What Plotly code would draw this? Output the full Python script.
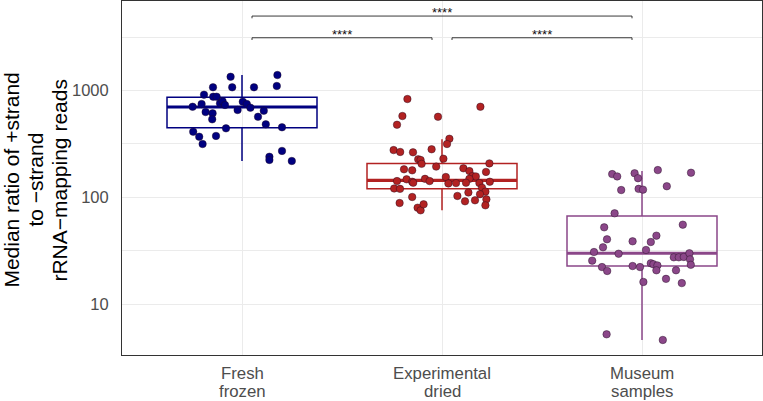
import math
import plotly.graph_objects as go

# ---------------- data ----------------
categories = ["Fresh frozen", "Experimental dried", "Museum samples"]
category_labels = [["Fresh", "frozen"], ["Experimental", "dried"], ["Museum", "samples"]]

fresh_values = [1349, 1400, 1105, 1074, 1074, 1074, 916, 877, 877, 706, 749, 630, 613, 538,
                760, 794, 733, 658, 787, 749, 692, 648, 569, 483, 453, 443, 376, 412, 370,
                316, 240, 224, 272, 219]
fresh_jitter = [-0.057, 0.177, 0.174, -0.049, 0.060, -0.145, -0.190, -0.144, -0.127, -0.247,
                -0.202, -0.182, -0.147, -0.149, -0.110, -0.097, -0.085, -0.022, 0.004, 0.024,
                0.042, 0.109, 0.080, 0.119, 0.200, -0.080, -0.130, -0.244, -0.214, -0.197,
                0.137, 0.137, 0.200, 0.249]

dried_values = [834, 578, 479, 569, 706, 354, 316, 277, 266, 264, 282, 227, 224, 206, 230, 194,
                183, 179, 142, 147.5, 140, 137, 149, 142, 121, 120, 155, 135, 136, 187, 176,
                158, 157, 149, 137, 136, 208, 173, 140, 123, 113, 111, 107, 103, 100.7, 88.4,
                79.9, 75.5, 86, 91.7, 93.7, 95.8, 84.1]
dried_jitter = [-0.173, -0.198, -0.225, -0.020, 0.192, 0.037, 0.025, -0.242, -0.209, -0.145,
                -0.052, -0.119, -0.107, -0.102, 0.007, -0.029, -0.190, -0.149, -0.225, -0.177,
                -0.149, -0.144, -0.085, -0.062, -0.239, -0.210, 0.019, 0.032, 0.070, 0.107,
                0.137, 0.152, 0.169, 0.137, 0.120, 0.187, 0.237, 0.220, 0.239, 0.200, 0.217,
                0.132, 0.190, 0.077, -0.149, -0.212, -0.122, -0.107, -0.092, 0.115, 0.165,
                0.222, 0.217]

museum_values = [165, 157, 168, 151, 180, 170, 117, 120, 118, 127, 70.8, 52.3, 55.4, 40.4, 38.7,
                 38.1, 43.7, 34, 30.7, 29.6, 32.1, 25.5, 22.2, 20.4, 22.7, 22.2, 24.1, 23.6,
                 23.0, 20.7, 16.1, 17.2, 20.7, 15.7, 27.4, 27.4, 27.6, 29.9, 26.2, 23.3, 5.2,
                 4.6]
museum_jitter = [-0.149, -0.124, -0.037, -0.020, 0.079, 0.245, -0.104, -0.017, 0.005, 0.124,
                 -0.137, -0.189, 0.204, -0.175, -0.047, 0.044, 0.072, -0.195, -0.240, -0.117,
                 0.020, -0.249, -0.200, -0.174, -0.047, -0.010, 0.044, 0.057, 0.077, 0.072,
                 0.007, 0.120, 0.170, 0.199, 0.159, 0.184, 0.209, 0.237, 0.240, 0.244, -0.177,
                 0.104]

# box statistics (q1, median, q3, lower whisker, upper whisker)
box_q1 = [449, 120, 22.7]
box_median = [702, 144, 29.9]
box_q3 = [865, 208, 66.8]
box_low = [219, 75.5, 4.6]
box_high = [1400, 350, 176]

# significance comparisons
comparisons = [(1, 2), (2, 3), (1, 3)]
bracket_heights = [3130, 3130, 5000]
bracket_labels = ["****", "****", "****"]

y_ticks = [10, 100, 1000]
y_minor = [3.1623, 31.623, 316.23, 3162.3]

# ---------------- styling ----------------
point_fill = ["#000080", "#B22222", "#8B4789"]
box_color = ["#000080", "#B22222", "#8B4789"]
W, H = 763, 401
ML, MR, MT, MB = 122, 1, 1, 46
Y_LO, Y_HI = 0.522, 3.84
box_width = 0.75

fig = go.Figure()

values_all = [fresh_values, dried_values, museum_values]
jitter_all = [fresh_jitter, dried_jitter, museum_jitter]

for i in range(3):
    pos = i + 1
    fig.add_trace(go.Box(
        x=[pos], q1=[box_q1[i]], median=[box_median[i]], q3=[box_q3[i]],
        lowerfence=[box_low[i]], upperfence=[box_high[i]],
        width=box_width, whiskerwidth=0, boxpoints=False,
        fillcolor="rgba(255,255,255,0)",
        line=dict(color=box_color[i], width=1.5),
        showlegend=False, hoverinfo="skip"))
    fig.add_trace(go.Scatter(
        x=[pos - box_width / 2, pos + box_width / 2],
        y=[box_median[i], box_median[i]],
        mode="lines", line=dict(color=box_color[i], width=3.2),
        showlegend=False, hoverinfo="skip"))

for i in range(3):
    pos = i + 1
    fig.add_trace(go.Scatter(
        x=[pos + j for j in jitter_all[i]], y=values_all[i],
        mode="markers",
        marker=dict(size=7.5, color=point_fill[i],
                    line=dict(color="rgba(30,10,30,0.85)", width=0.5)),
        showlegend=False, name=categories[i]))

plot_h = H - MT - MB
plot_w = W - ML - MR


def to_paper_y(v):
    return (math.log10(v) - Y_LO) / (Y_HI - Y_LO)


# significance brackets
for (a, b), h, lab in zip(comparisons, bracket_heights, bracket_labels):
    x0, x1 = a + 0.05, b - 0.05
    fig.add_trace(go.Scatter(
        x=[x0, x0, x1, x1], y=[h / 1.05, h, h, h / 1.05],
        mode="lines", line=dict(color="#222222", width=0.9),
        showlegend=False, hoverinfo="skip"))
    fig.add_annotation(
        x=(a + b) / 2, y=to_paper_y(h) + 3.2 / plot_h,
        xref="x", yref="paper", text=lab, showarrow=False,
        font=dict(size=13, color="#111111", family="Liberation Sans, Arial"),
        xanchor="center", yanchor="middle")

# x category labels (two lines each)
for i, lines in enumerate(category_labels):
    for txt, py in zip(lines, [373.0, 391.5]):
        fig.add_annotation(
            x=i + 1, y=(H - MB - py) / plot_h, xref="x", yref="paper",
            text=txt, showarrow=False, xanchor="center", yanchor="middle",
            font=dict(size=16.8, color="#4D4D4D", family="Liberation Sans, Arial"))

# y title (three lines, rotated)
y_title_lines = ["Median ratio of +strand", "to \u2212strand", "rRNA\u2212mapping reads"]
for txt, px in zip(y_title_lines, [10.6, 34.6, 58.6]):
    fig.add_annotation(
        x=(px - ML) / plot_w, y=(H - MB - 180) / plot_h, xref="paper", yref="paper",
        text=txt, showarrow=False, textangle=-90, xanchor="center", yanchor="middle",
        font=dict(size=21, color="#000000", family="Liberation Sans, Arial"))

tickvals = sorted(y_ticks + y_minor)
ticktext = [str(v) if v in y_ticks else "" for v in tickvals]

fig.update_layout(
    width=W, height=H,
    margin=dict(l=ML, r=MR, t=MT, b=MB),
    plot_bgcolor="white", paper_bgcolor="white",
    font=dict(family="Liberation Sans, Arial"),
    xaxis=dict(range=[0.4, 3.6], tickvals=[1, 2, 3], ticktext=["", "", ""],
               showgrid=True, gridcolor="#EBEBEB", gridwidth=1, zeroline=False,
               showline=True, mirror=True, linecolor="#333333", linewidth=1, ticks=""),
    yaxis=dict(type="log", range=[Y_LO, Y_HI], tickvals=tickvals, ticktext=ticktext,
               showgrid=True, gridcolor="#EBEBEB", gridwidth=1, zeroline=False,
               showline=True, mirror=True, linecolor="#333333", linewidth=1, ticks="",
               tickfont=dict(size=16.5, color="#4D4D4D"), ticklabelstandoff=9),
)

fig.write_html(
    "out.html",
    config={"displayModeBar": False},
    post_script="document.body.style.margin='0';document.body.style.overflow='hidden';",
)
